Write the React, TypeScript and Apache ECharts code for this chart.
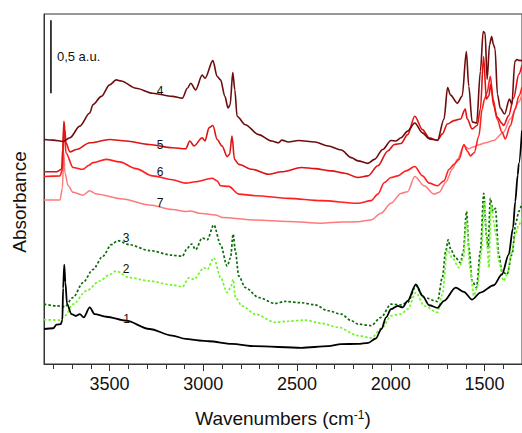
import React, { useEffect, useRef } from "react";
import * as echarts from "echarts";

// x-axis tick values (wavenumbers, cm-1)
const majorTicks = [3500, 3000, 2500, 2000, 1500];
const minorTicks = [3800, 3700, 3600, 3400, 3300, 3200, 3100, 2900, 2800, 2700, 2600, 2400, 2300, 2200, 2100, 1900, 1800, 1700, 1600, 1400];

// spectra: [wavenumber, absorbance (a.u.)]
const spectrum1: [number, number][] = [
  [3850, 0.24], [3801, 0.245], [3783, 0.27], [3761, 0.274], [3752, 0.3], [3748, 0.52], [3742, 0.682], [3736, 0.56],
  [3727, 0.41], [3703, 0.342], [3680, 0.329], [3659, 0.342], [3638, 0.32], [3606, 0.388], [3580, 0.342], [3518, 0.324],
  [3412, 0.297], [3288, 0.24], [3166, 0.195], [3094, 0.172], [3023, 0.161], [2970, 0.156], [2848, 0.138], [2723, 0.122],
  [2477, 0.111], [2334, 0.122], [2265, 0.136], [2175, 0.138], [2120, 0.145], [2080, 0.175], [2050, 0.24], [2025, 0.32], [1999, 0.376],
  [1963, 0.399], [1937, 0.388], [1910, 0.433], [1866, 0.546], [1831, 0.467], [1795, 0.403], [1751, 0.385], [1716, 0.433],
  [1654, 0.524], [1610, 0.495], [1566, 0.442], [1522, 0.49], [1451, 0.54], [1407, 0.614], [1371, 0.75], [1348, 0.932],
  [1336, 1.114], [1323, 1.295], [1317, 1.374], [1300, 1.6],
];
const spectrum2: [number, number][] = [
  [3850, 0.304], [3765, 0.301], [3739, 0.331], [3695, 0.41], [3624, 0.501], [3553, 0.569], [3500, 0.614], [3465, 0.637],
  [3394, 0.592], [3288, 0.569], [3165, 0.542], [3112, 0.529], [3076, 0.592], [3050, 0.58], [2997, 0.66], [2979, 0.648],
  [2944, 0.728], [2908, 0.592], [2873, 0.49], [2855, 0.524], [2841, 0.58], [2829, 0.456], [2794, 0.399], [2723, 0.342],
  [2617, 0.286], [2546, 0.293], [2458, 0.301], [2370, 0.279], [2281, 0.252], [2175, 0.195], [2105, 0.179], [2043, 0.252],
  [1999, 0.331], [1946, 0.342], [1910, 0.376], [1866, 0.49], [1822, 0.399], [1751, 0.354], [1725, 0.478], [1698, 0.784],
  [1672, 0.728], [1636, 0.66], [1613, 0.728], [1596, 0.978], [1578, 0.66], [1557, 0.467], [1539, 0.524], [1518, 0.75],
  [1501, 1.114], [1486, 0.818], [1477, 0.66], [1465, 1.09], [1451, 0.978], [1439, 0.886], [1424, 0.705], [1398, 0.569],
  [1380, 0.614], [1354, 0.773], [1336, 0.886], [1317, 0.954], [1300, 1.0],
];
const spectrum3: [number, number][] = [
  [3850, 0.41], [3783, 0.399], [3739, 0.393], [3695, 0.456], [3642, 0.558], [3589, 0.648], [3536, 0.739], [3491, 0.818],
  [3456, 0.846], [3394, 0.818], [3288, 0.778], [3165, 0.746], [3112, 0.739], [3085, 0.796], [3062, 0.823], [3041, 0.784],
  [3006, 0.864], [2979, 0.852], [2944, 0.954], [2908, 0.818], [2873, 0.671], [2855, 0.728], [2841, 0.891], [2829, 0.773],
  [2811, 0.603], [2776, 0.524], [2705, 0.456], [2617, 0.415], [2564, 0.429], [2476, 0.42], [2405, 0.406], [2334, 0.365],
  [2264, 0.342], [2211, 0.297], [2175, 0.274], [2105, 0.263], [2052, 0.32], [1999, 0.41], [1946, 0.406], [1910, 0.422],
  [1866, 0.535], [1822, 0.456], [1751, 0.429], [1725, 0.592], [1707, 0.773], [1694, 0.852], [1680, 0.784], [1654, 0.728],
  [1628, 0.694], [1613, 0.773], [1596, 1.046], [1583, 0.796], [1566, 0.569], [1543, 0.524], [1522, 0.773], [1504, 1.17],
  [1490, 0.886], [1481, 0.796], [1469, 1.136], [1454, 1.046], [1442, 1.068], [1424, 0.75], [1407, 0.637], [1380, 0.614],
  [1354, 0.75], [1331, 0.978], [1317, 1.046], [1300, 1.1],
];
const spectrum4: [number, number][] = [
  [3850, 1.539], [3801, 1.535], [3748, 1.526], [3712, 1.551], [3659, 1.631], [3606, 1.721], [3589, 1.778], [3544, 1.835],
  [3500, 1.914], [3465, 1.948], [3438, 1.941], [3359, 1.891], [3271, 1.857], [3165, 1.835], [3112, 1.823], [3085, 1.891],
  [3067, 1.925], [3041, 1.88], [3006, 1.982], [2991, 1.959], [2949, 2.08], [2926, 1.971], [2908, 1.948], [2885, 1.835],
  [2868, 1.755], [2857, 1.778], [2843, 1.998], [2832, 1.88], [2820, 1.699], [2776, 1.641], [2705, 1.573], [2635, 1.529],
  [2599, 1.517], [2582, 1.535], [2546, 1.522], [2493, 1.533], [2405, 1.522], [2334, 1.495], [2264, 1.467], [2211, 1.415],
  [2175, 1.393], [2122, 1.376], [2087, 1.403], [2043, 1.471], [1999, 1.533], [1972, 1.529], [1946, 1.551], [1910, 1.597],
  [1872, 1.653], [1831, 1.585], [1795, 1.544], [1751, 1.534], [1716, 1.68], [1697, 1.895], [1681, 1.844], [1645, 1.789],
  [1619, 1.837], [1597, 2.143], [1584, 1.905], [1566, 1.66], [1542, 1.653], [1522, 2.007], [1507, 2.279], [1497, 2.269],
  [1486, 1.952], [1473, 2.19], [1462, 2.245], [1452, 2.19], [1444, 2.163], [1431, 1.85], [1416, 1.755], [1393, 1.714],
  [1367, 1.816], [1354, 1.782], [1338, 2.075], [1327, 2.088], [1317, 2.082], [1300, 2.08],
];
const spectrum5: [number, number][] = [
  [3850, 1.318], [3783, 1.318], [3756, 1.335], [3750, 1.476], [3744, 1.665], [3739, 1.612], [3733, 1.517], [3712, 1.454],
  [3677, 1.471], [3606, 1.517], [3500, 1.539], [3412, 1.529], [3288, 1.505], [3165, 1.483], [3094, 1.476], [3072, 1.529],
  [3050, 1.495], [3006, 1.551], [2991, 1.529], [2970, 1.619], [2949, 1.635], [2926, 1.539], [2900, 1.495], [2873, 1.422],
  [2860, 1.437], [2847, 1.563], [2834, 1.403], [2811, 1.369], [2741, 1.335], [2652, 1.301], [2582, 1.318], [2476, 1.347],
  [2405, 1.34], [2317, 1.324], [2246, 1.308], [2175, 1.279], [2122, 1.29], [2069, 1.359], [2016, 1.461], [1981, 1.505],
  [1946, 1.512], [1910, 1.573], [1872, 1.699], [1831, 1.607], [1795, 1.551], [1751, 1.533], [1725, 1.578], [1698, 1.646],
  [1663, 1.669], [1628, 1.68], [1603, 1.748], [1592, 1.68], [1566, 1.612], [1539, 1.635], [1522, 1.748], [1505, 2.109],
  [1490, 1.816], [1477, 1.839], [1467, 1.918], [1451, 1.771], [1433, 1.694], [1407, 1.65], [1398, 1.635], [1371, 1.703],
  [1345, 1.823], [1317, 1.986], [1300, 2.05],
];
const spectrum6: [number, number][] = [
  [3850, 1.286], [3765, 1.29], [3751, 1.335], [3744, 1.619], [3739, 1.558], [3733, 1.449], [3695, 1.347], [3642, 1.335],
  [3610, 1.363], [3589, 1.381], [3518, 1.403], [3447, 1.386], [3359, 1.34], [3271, 1.29], [3165, 1.263], [3094, 1.24],
  [3041, 1.25], [2953, 1.274], [2926, 1.256], [2908, 1.222], [2864, 1.218], [2811, 1.165], [2723, 1.154], [2546, 1.136],
  [2370, 1.12], [2175, 1.102], [2105, 1.12], [2069, 1.165], [2034, 1.245], [1999, 1.279], [1963, 1.29], [1919, 1.324],
  [1872, 1.354], [1831, 1.29], [1795, 1.24], [1751, 1.222], [1716, 1.256], [1689, 1.335], [1663, 1.369], [1636, 1.403],
  [1610, 1.505], [1592, 1.461], [1575, 1.427], [1555, 1.449], [1530, 1.563], [1513, 1.748], [1500, 1.816], [1486, 1.862],
  [1469, 1.973], [1454, 1.816], [1433, 1.68], [1407, 1.59], [1389, 1.544], [1363, 1.633], [1336, 1.748], [1317, 1.837],
  [1300, 1.9],
];
const spectrum7: [number, number][] = [
  [3850, 1.124], [3765, 1.124], [3752, 1.204], [3744, 1.45], [3739, 1.313], [3721, 1.222], [3695, 1.177], [3642, 1.158],
  [3606, 1.188], [3571, 1.165], [3430, 1.131], [3288, 1.09], [3165, 1.059], [3094, 1.046], [3067, 1.05], [3023, 1.034],
  [2935, 1.022], [2900, 1.005], [2723, 0.988], [2546, 0.978], [2370, 0.966], [2264, 0.973], [2175, 0.976], [2105, 0.988],
  [2052, 1.034], [1999, 1.102], [1946, 1.17], [1910, 1.182], [1872, 1.286], [1822, 1.222], [1769, 1.165], [1742, 1.177],
  [1707, 1.245], [1672, 1.335], [1645, 1.403], [1610, 1.495], [1583, 1.476], [1557, 1.49], [1529, 1.503], [1495, 1.517],
  [1451, 1.533], [1398, 1.59], [1363, 1.68], [1317, 1.796], [1300, 1.85],
];

// curve number labels: [wavenumber, absorbance, text]
const curveLabels: [number, number, string][] = [
  [3409, 0.308, "1"], [3412, 0.653, "2"], [3412, 0.864, "3"], [3231, 1.869, "4"],
  [3231, 1.505, "5"], [3231, 1.318, "6"], [3231, 1.102, "7"],
];

// scale bar (0.5 a.u.)
const scaleBar: [number, number][] = [[3813, 1.857], [3813, 2.357]];
const scaleBarText: [number, number, string] = [3781, 2.107, "0,5 a.u."];

const FONT = 'Arial, "Liberation Sans", sans-serif';
const TEXT = "#111111";

export default function App() {
  const ref = useRef<HTMLDivElement>(null);
  useEffect(() => {
    const chart = echarts.init(ref.current!, null, { renderer: "svg" });
    const curves = [
      { d: spectrum7, c: "#ff7b7b", dash: "solid", w: 1.5 },
      { d: spectrum6, c: "#ff1f1f", dash: "solid", w: 1.6 },
      { d: spectrum5, c: "#e01212", dash: "solid", w: 1.6 },
      { d: spectrum4, c: "#6e0d0d", dash: "solid", w: 1.6 },
      { d: spectrum3, c: "#0b6b0b", dash: [2.5, 2], w: 1.7 },
      { d: spectrum2, c: "#70f526", dash: [2.5, 2], w: 1.7 },
      { d: spectrum1, c: "#000000", dash: "solid", w: 1.8 },
    ];
    const series: any[] = curves.map((s, i) => ({
      type: "line",
      data: s.d,
      showSymbol: false,
      symbol: "none",
      smooth: 0.3,
      smoothMonotone: "x",
      z: 2 + i,
      silent: true,
      lineStyle: { color: s.c, width: s.w, type: s.dash },
    }));
    series.push({
      type: "line",
      data: scaleBar,
      showSymbol: false,
      symbol: "none",
      silent: true,
      lineStyle: { color: "#000", width: 1.5 },
    });

    chart.setOption({
      animation: false,
      backgroundColor: "#fff",
      grid: { left: 44, top: 14, right: -3, bottom: 66, show: true, borderColor: "#333", borderWidth: 1 },
      xAxis: [
        {
          type: "value", min: 1300, max: 3850, inverse: true, position: "bottom",
          axisLine: { show: true, onZero: false, lineStyle: { color: "#333", width: 1 } },
          axisTick: { show: true, customValues: minorTicks, length: 5, lineStyle: { color: "#333" } },
          axisLabel: { show: false },
          splitLine: { show: false },
        },
        {
          type: "value", min: 1300, max: 3850, inverse: true, position: "bottom",
          axisLine: { show: false, onZero: false },
          axisTick: { show: true, customValues: majorTicks, length: 7, lineStyle: { color: "#333" } },
          axisLabel: {
            show: true, customValues: majorTicks, fontSize: 18, color: TEXT, fontFamily: FONT, margin: 11,
            formatter: (v: number) => String(v),
          },
          splitLine: { show: false },
          name: "{a|Wavenumbers (cm}{s|-1}{a|)}",
          nameLocation: "middle",
          nameGap: 45,
          nameTextStyle: {
            rich: {
              a: { fontSize: 19, color: TEXT, fontFamily: FONT },
              s: { fontSize: 12, color: TEXT, fontFamily: FONT, verticalAlign: "top" },
            },
          },
        },
      ],
      yAxis: {
        type: "value", min: 0, max: 2.4,
        axisLine: { show: true, onZero: false, lineStyle: { color: "#333", width: 1 } },
        axisTick: { show: false },
        axisLabel: { show: false },
        splitLine: { show: false },
      },
      series,
    });

    // texts placed through the chart's own coordinate conversion
    const toPx = (x: number, y: number) =>
      chart.convertToPixel({ xAxisIndex: 0, yAxisIndex: 0 }, [x, y]) as number[];
    const texts: any[] = curveLabels.map(([x, y, t]) => {
      const p = toPx(x, y);
      return {
        type: "text", x: p[0], y: p[1], z: 50,
        style: { text: t, font: `12px ${FONT}`, fill: TEXT, align: "center", verticalAlign: "middle" },
      };
    });
    const sp = toPx(scaleBarText[0], scaleBarText[1]);
    texts.push({
      type: "text", x: sp[0], y: sp[1], z: 50,
      style: { text: scaleBarText[2], font: `13px ${FONT}`, fill: TEXT, align: "left", verticalAlign: "middle" },
    });
    texts.push({
      type: "text", x: 19, y: 202, rotation: Math.PI / 2, z: 50,
      style: { text: "Absorbance", font: `19px ${FONT}`, fill: TEXT, align: "center", verticalAlign: "middle" },
    });
    chart.setOption({ graphic: texts });

    return () => chart.dispose();
  }, []);
  return <div ref={ref} style={{ position: "fixed", left: 0, top: 0, width: 522, height: 433, background: "#fff" }} />;
}
